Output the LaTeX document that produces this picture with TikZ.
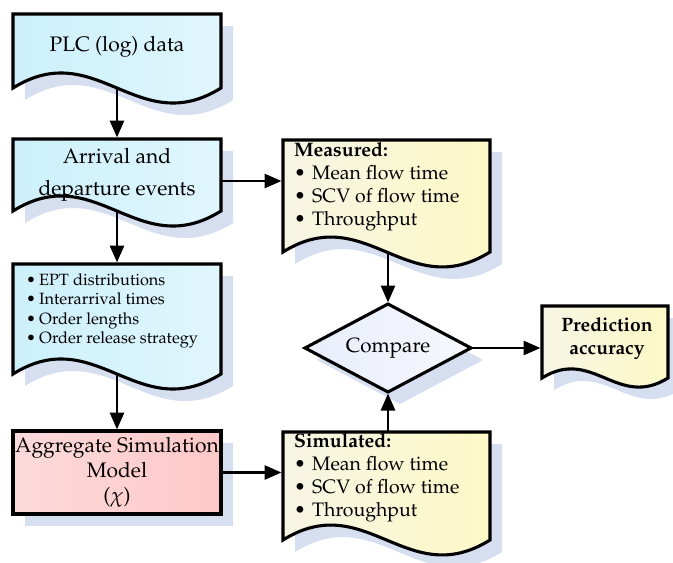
\documentclass[tikz,border=0pt]{standalone}
\usepackage[T1]{fontenc}
\usepackage{mathpazo}
\usetikzlibrary{calc,backgrounds,shapes.geometric,arrows.meta}

\definecolor{shadowblue}{RGB}{214,223,240}
\definecolor{cyanL}{RGB}{204,240,251}
\definecolor{cyanR}{RGB}{224,246,253}
\definecolor{yellowL}{RGB}{246,245,228}
\definecolor{yellowR}{RGB}{253,249,198}
\definecolor{pinkL}{RGB}{252,218,218}
\definecolor{pinkR}{RGB}{255,200,200}
\definecolor{diamondL}{RGB}{232,237,250}
\definecolor{diamondR}{RGB}{246,248,253}

% document shape: straight top and sides, wavy bottom
\newcommand{\docshape}[2]{%
  \path[#2] let \p1=(#1.south west), \p2=(#1.south east) in
    (#1.north west) -- (#1.north east) -- (\p2)
    .. controls ({\x1+0.6*(\x2-\x1)},{\y1-0.25*(\x2-\x1)})
           and ({\x1+0.4*(\x2-\x1)},{\y1+0.25*(\x2-\x1)}) .. (\p1) -- cycle;}
\newcommand{\itm}[1][18pt]{\makebox[#1][l]{\textbullet}}

\tikzset{
  geom/.style={inner sep=0pt, outer sep=0pt},
  big/.style={font=\fontsize{21}{25}\selectfont, align=center},
  lst/.style={font=\fontsize{19.5}{23}\selectfont, align=left, inner sep=0pt, anchor=west},
  flow/.style={->, line width=2.8pt, shorten >=1.5pt},
  border/.style={draw, line width=3.1pt}
}

\begin{document}
\begin{tikzpicture}[x=1pt, y=-1pt, >={Triangle[length=17pt,width=14pt]}]
  \useasboundingbox (0,0) rectangle (673,563);

  % Left column
  \node[geom, minimum width=208pt, minimum height=74pt] (plc) at (117,51) {};
  \node[geom, minimum width=208pt, minimum height=72pt] (arr) at (117,175) {};
  \node[geom, minimum width=208pt, minimum height=110pt] (inp) at (117,319) {};
  \node[geom, border, big, left color=pinkL, right color=pinkR,
        minimum width=208pt, minimum height=83pt] (agg) at (117,472.5)
        {Aggregate Simulation\\Model\\($\chi$)};

  % Right column
  \node[geom, minimum width=207pt, minimum height=112pt] (meas) at (386.5,196) {};
  \node[geom, minimum width=207pt, minimum height=108pt] (sim) at (386.5,486) {};
  \node[diamond, geom, border, left color=diamondL, right color=diamondR, aspect=1.9,
        minimum width=166pt, minimum height=88pt, font=\fontsize{20.6}{24}\selectfont]
        (cmp) at (388,348) {Compare};
  \node[geom, minimum width=126pt, minimum height=72pt] (pred) at (605,342) {};

  % Texts
  \node[big] (plc-t) at (117,47) {PLC (log) data};
  \node[big, font=\fontsize{21}{32}\selectfont] (arr-t) at (117,175) {Arrival and\\departure events};
  \node[lst, font=\fontsize{16.3}{19.5}\selectfont] (inp-t) at (26,311)
    {\itm[13pt]EPT distributions\\\itm[13pt]Interarrival times\\\itm[13pt]Order lengths\\\itm[13pt]Order release strategy};
  \node[lst] (meas-t) at (294,187)
    {\textbf{Measured:}\\\itm Mean flow time\\\itm SCV of flow time\\\itm Throughput};
  \node[lst] (sim-t) at (294,477.5)
    {\textbf{Simulated:}\\\itm Mean flow time\\\itm SCV of flow time\\\itm Throughput};
  \node[align=center, font=\fontsize{19.3}{23}\selectfont\bfseries] (pred-t) at (607,338.5)
    {Prediction\\accuracy};

  % Shadows and document shapes
  \begin{scope}[on background layer]
    \begin{scope}[transform canvas={shift={(12pt,-12pt)}}]
      \foreach \b in {plc,arr,inp,meas,sim,pred}
        {\docshape{\b}{fill=shadowblue}}
      \path[fill=shadowblue] (agg.north west) rectangle (agg.south east);
      \path[fill=shadowblue] (cmp.north) -- (cmp.east) -- (cmp.south) -- (cmp.west) -- cycle;
    \end{scope}
    \foreach \b in {plc,arr,inp}
      {\docshape{\b}{border, left color=cyanL, right color=cyanR}}
    \foreach \b in {meas,sim,pred}
      {\docshape{\b}{border, left color=yellowL, right color=yellowR}}
  \end{scope}

  % Arrows
  \draw[flow] (plc.south) -- (arr.north);
  \draw[flow] (arr.south) -- (inp.north);
  \draw[flow] (inp.south) -- (agg.north);
  \draw[flow] ([yshift=-6pt]arr.east) -- ([yshift=-6pt]arr.east -| meas.west);
  \draw[flow] (agg.east) -- (agg.east -| sim.west);
  \draw[flow] (meas.south) -- (meas.south -| cmp.north) -- (cmp.north);
  \draw[flow] (sim.north -| cmp.south) -- (cmp.south);
  \draw[flow] (cmp.east) -- (cmp.east -| pred.west);
\end{tikzpicture}
\end{document}
